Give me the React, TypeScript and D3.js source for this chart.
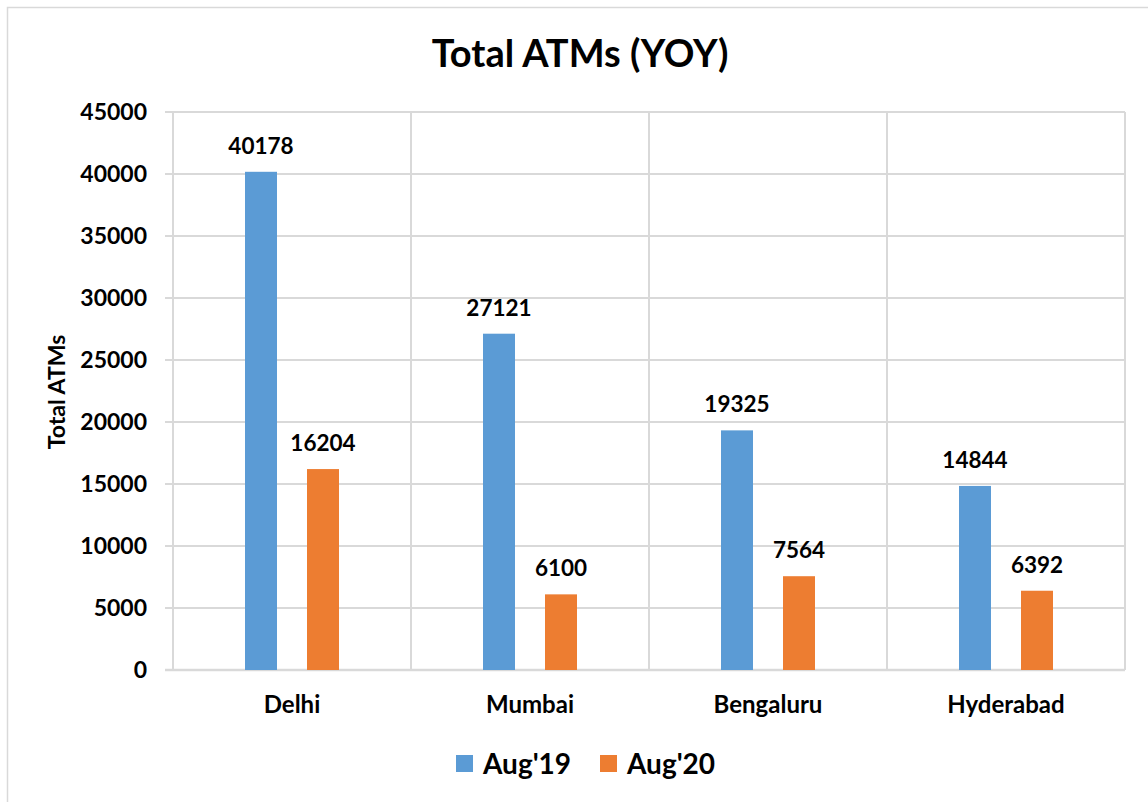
import * as d3 from "d3";

const categories = ["Delhi", "Mumbai", "Bengaluru", "Hyderabad"];
const seriesNames = ["Aug'19", "Aug'20"];
const aug19 = [40178, 27121, 19325, 14844];
const aug20 = [16204, 6100, 7564, 6392];
const yTicks = [0, 5000, 10000, 15000, 20000, 25000, 30000, 35000, 40000, 45000];

const COLORS = ["#5b9bd5", "#ed7d31"];
const GRID = "#d9d9d9";
const FONT = "Lato, 'Open Sans', sans-serif";

const W = 1148;
const H = 802;
const plot = { left: 173, right: 1125, top: 112, bottom: 670 };

export default function App() {
  const x = d3
    .scaleBand<string>()
    .domain(categories)
    .range([plot.left, plot.right]);
  const y = d3.scaleLinear().domain([0, 45000]).range([plot.bottom, plot.top]);

  const barW = 32;
  const gap = 30;
  const series = [aug19, aug20];

  return (
    <svg
      width={W}
      height={H}
      style={{ position: "absolute", left: 0, top: 0, background: "#fff" }}
      fontFamily={FONT}
    >
      <rect x={7.5} y={7.5} width={W + 10} height={H + 10} fill="#fff" stroke={GRID} strokeWidth={1.5} />

      <text x={580} y={67} textAnchor="middle" fontSize={38} fontWeight={700} fill="#000">
        Total ATMs (YOY)
      </text>

      {/* horizontal gridlines + ticks */}
      {yTicks.map((t) => (
        <g key={t}>
          <line x1={plot.left - 8} x2={plot.right} y1={y(t)} y2={y(t)} stroke={GRID} strokeWidth={t === 0 ? 2.5 : 2} />
          <text
            x={147}
            y={y(t)}
            dy="0.36em"
            textAnchor="end"
            fontSize={23}
            fontWeight={700}
            fill="#000"
          >
            {t}
          </text>
        </g>
      ))}

      {/* vertical category separators */}
      {categories.map((c) => (
        <line key={c} x1={x(c)!} x2={x(c)!} y1={plot.top} y2={plot.bottom} stroke={GRID} strokeWidth={2} />
      ))}
      <line x1={plot.right} x2={plot.right} y1={plot.top} y2={plot.bottom} stroke={GRID} strokeWidth={2} />

      {/* bars */}
      {categories.map((c, i) => {
        const cx = x(c)! + x.bandwidth() / 2;
        return (
          <g key={c}>
            {series.map((s, k) => {
              const bx = k === 0 ? cx - gap / 2 - barW : cx + gap / 2;
              return (
                <g key={k}>
                  <rect
                    x={bx}
                    y={y(s[i])}
                    width={barW}
                    height={plot.bottom - y(s[i])}
                    fill={COLORS[k]}
                  />
                  <text
                    x={bx + barW / 2}
                    y={y(s[i]) - 18}
                    textAnchor="middle"
                    fontSize={22.5}
                    fontWeight={700}
                    fill="#000"
                  >
                    {s[i]}
                  </text>
                </g>
              );
            })}
            <text x={cx} y={713} textAnchor="middle" fontSize={24} fontWeight={700} fill="#000">
              {c}
            </text>
          </g>
        );
      })}

      {/* y axis title */}
      <text
        transform={`translate(65, 392) rotate(-90)`}
        textAnchor="middle"
        fontSize={23}
        fontWeight={700}
        fill="#000"
      >
        Total ATMs
      </text>

      {/* legend */}
      {seriesNames.map((n, k) => {
        const lx = k === 0 ? 456 : 600;
        return (
          <g key={n}>
            <rect x={lx} y={755} width={17} height={17} fill={COLORS[k]} />
            <text x={lx + 27} y={774} fontSize={28} fontWeight={700} fill="#000">
              {n}
            </text>
          </g>
        );
      })}
    </svg>
  );
}
